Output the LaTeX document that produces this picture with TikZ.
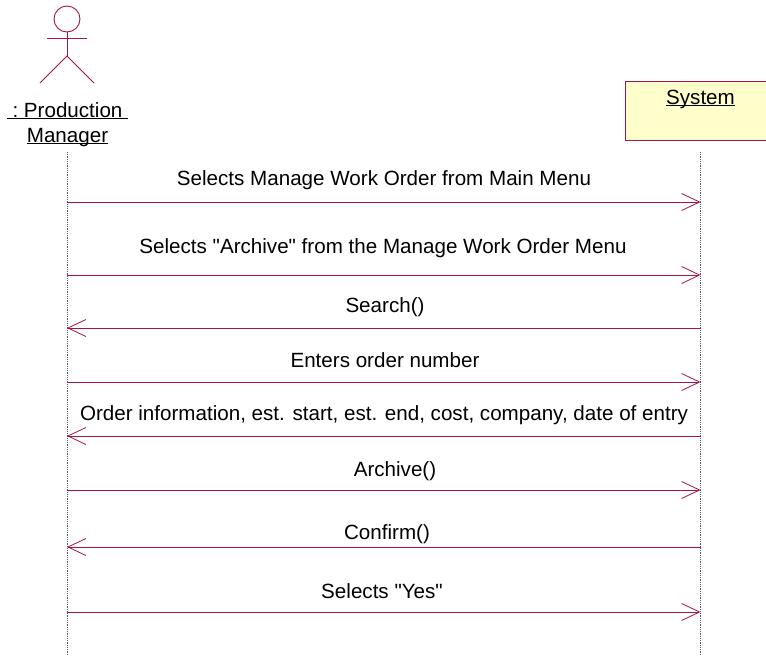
\documentclass[tikz,border=0pt]{standalone}
\usepackage{fontspec}
\setmainfont{Liberation Sans}[Ligatures=TeXOff]
\usetikzlibrary{arrows.meta}
\definecolor{umlline}{HTML}{A5144A}
\definecolor{umlfill}{HTML}{FFFFCC}
\tikzset{>={Straight Barb[length=18pt,width=17pt]}}

\begin{document}
\begin{tikzpicture}[x=1pt,y=-1pt]
                        % pm = production manager, sys = system, a/b = left/right end of a message
                        \tikzstyle{every node}=[inner sep=0pt, font=\fontsize{20.6pt}{24pt}\selectfont]
                        \tikzstyle{msg}=[umlline, ->, line width=0.8pt]
                        \tikzstyle{lifeline}=[black!65, densely dotted, line width=0.8pt]
                        \tikzstyle{actorline}=[umlline, line width=0.9pt]
                        \useasboundingbox (0, 0) rectangle (766, 656);
                        \clip (0, 0) rectangle (766, 656);

                        \node[circle, draw=umlline, line width=0.9pt, minimum size=26pt] (head) at (67, 19) {};
                        \coordinate (hip) at (67, 56);
                        \coordinate (armL) at (47, 38);
                        \coordinate (armR) at (87, 38);
                        \coordinate (footL) at (40, 83);
                        \coordinate (footR) at (94, 83);
                        \draw[actorline] (head.south) -- (hip);
                        \draw[actorline] (armL) -- (armR);
                        \draw[actorline] (footL) -- (hip) -- (footR);
                        \node[anchor=base] (pmName) at (67.5, 117) {\underline{\ :\ Production\ }};
                        \node[anchor=base] (pmName2) at (67.5, 142) {\underline{\smash{Manager}}};

                        \node[draw=umlline, fill=umlfill, line width=0.9pt, minimum width=152pt, minimum height=59pt] (sys) at (701, 111) {};
                        \node[anchor=base] (sysName) at (700.5, 104) {\underline{\smash{System}}};

                        \coordinate (pmTop) at (67, 152);
                        \coordinate (pmBot) at (67, 656);
                        \coordinate (sysTop) at (700.5, 152);
                        \coordinate (sysBot) at (700.5, 656);
                        \draw[lifeline] (pmTop) -- (pmBot);
                        \draw[lifeline] (sysTop) -- (sysBot);

                        \coordinate (a1) at (67, 202);
                        \coordinate (b1) at (700.5, 202);
                        \draw[msg] (a1) -- (b1);
                        \node (l1) at (384, 180) {Selects Manage Work Order from Main Menu};

                        \coordinate (a2) at (67, 275);
                        \coordinate (b2) at (700.5, 275);
                        \draw[msg] (a2) -- (b2);
                        \node (l2) at (383, 248) {Selects "Archive" from the Manage Work Order Menu};

                        \coordinate (a3) at (67, 328);
                        \coordinate (b3) at (700.5, 328);
                        \draw[msg] (b3) -- (a3);
                        \node (l3) at (385, 307.5) {Search()};

                        \coordinate (a4) at (67, 382);
                        \coordinate (b4) at (700.5, 382);
                        \draw[msg] (a4) -- (b4);
                        \node (l4) at (385, 360) {Enters order number};

                        \coordinate (a5) at (67, 436);
                        \coordinate (b5) at (700.5, 436);
                        \draw[msg] (b5) -- (a5);
                        \node (l5) at (384, 415) {Order information, est. start, est. end, cost, company, date of entry};

                        \coordinate (a6) at (67, 490);
                        \coordinate (b6) at (700.5, 490);
                        \draw[msg] (a6) -- (b6);
                        \node (l6) at (395, 471.5) {Archive()};

                        \coordinate (a7) at (67, 547);
                        \coordinate (b7) at (700.5, 547);
                        \draw[msg] (b7) -- (a7);
                        \node (l7) at (387, 534.5) {Confirm()};

                        \coordinate (a8) at (67, 612);
                        \coordinate (b8) at (700.5, 612);
                        \draw[msg] (a8) -- (b8);
                        \node (l8) at (382, 591) {Selects "Yes"};
                \end{tikzpicture}
\end{document}
